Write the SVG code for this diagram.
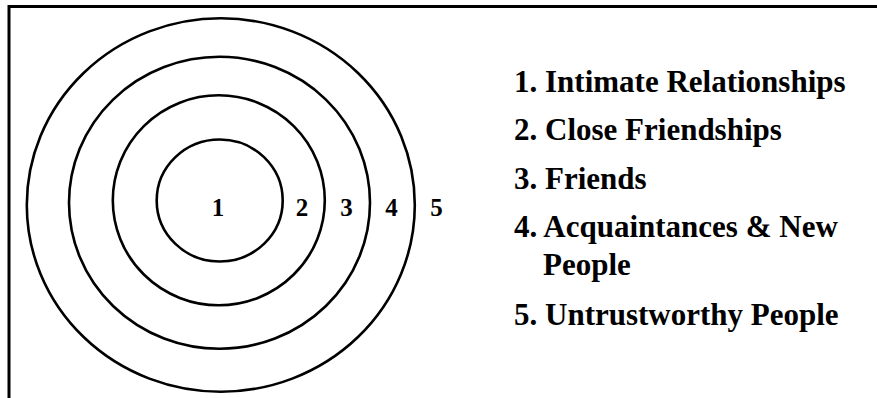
<svg xmlns="http://www.w3.org/2000/svg" width="877" height="398" viewBox="0 0 877 398">
<style>
.ring{fill:none;stroke:#000;stroke-width:2.6}
.frame{fill:none;stroke:#000;stroke-width:3}
.num{font-family:"Liberation Serif","Times New Roman",serif;font-weight:bold;font-size:25px;fill:#000;text-anchor:middle}
.item{font-family:"Liberation Serif","Times New Roman",serif;font-weight:bold;font-size:31px;fill:#000}
</style>
<rect width="877" height="398" fill="#fff"/>
<g id="frame">
<path class="frame" d="M9,398 V6.5 H877"/>
</g>
<g id="ring5">
<ellipse class="ring" cx="220.8" cy="205" rx="194" ry="186.7"/>
</g>
<g id="ring4">
<ellipse class="ring" cx="219.5" cy="202.8" rx="150.5" ry="146"/>
</g>
<g id="ring3">
<ellipse class="ring" cx="218.8" cy="200.3" rx="106" ry="105"/>
</g>
<g id="ring2">
<ellipse class="ring" cx="219.7" cy="200.5" rx="63" ry="61"/>
</g>
<g id="labels">
<text class="num" x="218" y="216">1</text>
<text class="num" x="302" y="216">2</text>
<text class="num" x="346.5" y="216">3</text>
<text class="num" x="391.5" y="216">4</text>
<text class="num" x="436.5" y="216">5</text>
</g>
<g id="legend">
<text class="item" x="514" y="92">1. Intimate Relationships</text>
<text class="item" x="514" y="140">2. Close Friendships</text>
<text class="item" x="514" y="189">3. Friends</text>
<text class="item" x="514" y="237">4. Acquaintances &amp; New</text>
<text class="item" x="543" y="275">People</text>
<text class="item" x="514" y="325">5. Untrustworthy People</text>
</g>
</svg>
